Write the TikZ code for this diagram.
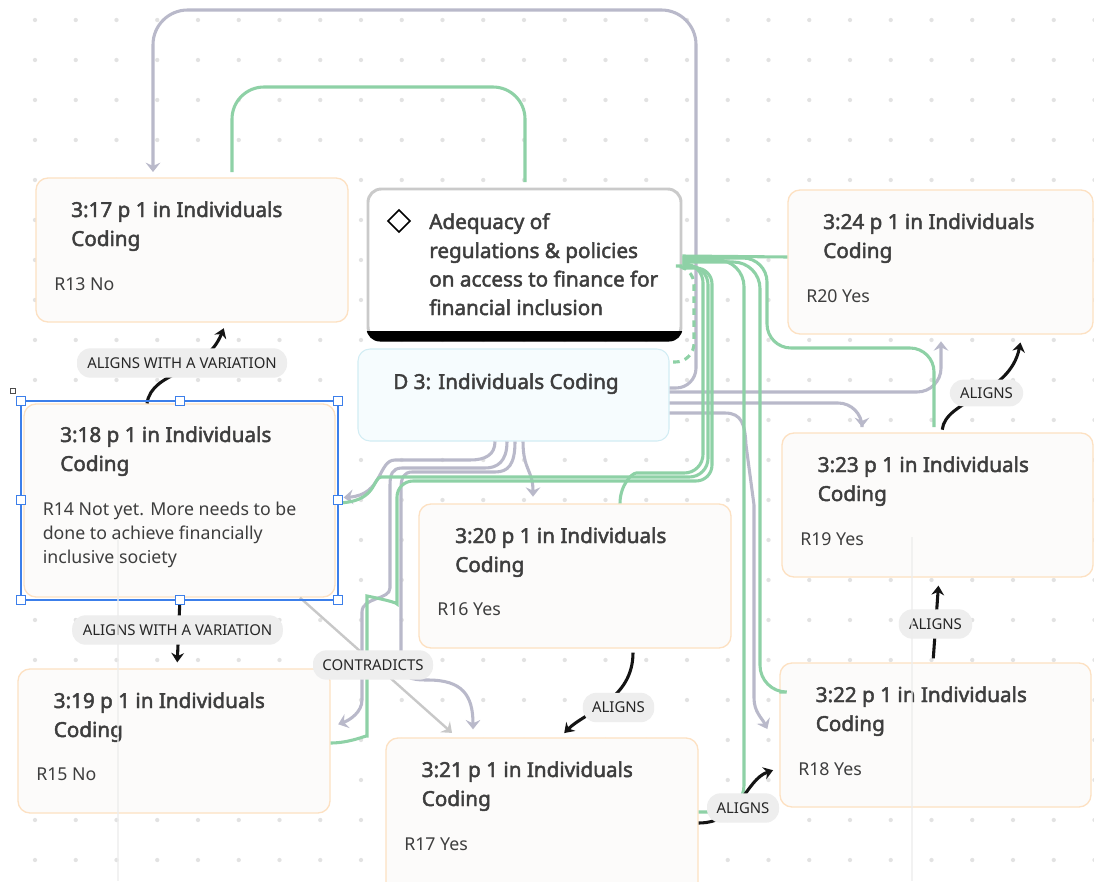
\documentclass[tikz,border=0pt]{standalone}
\usepackage{fontspec}
\setmainfont{Noto Sans}
\newfontfamily\headfont{Noto Sans}[FakeBold=2.2]
\usetikzlibrary{arrows.meta,fit,calc}

\definecolor{boxfill}{HTML}{FCFBFA}
\definecolor{boxline}{HTML}{FDE1C2}
\definecolor{txt}{HTML}{3E3E3E}
\definecolor{dfill}{HTML}{F6FCFE}
\definecolor{dline}{HTML}{D2EDF4}
\definecolor{grayc}{HTML}{B9B9CA}
\definecolor{greenc}{HTML}{8ED1A6}
\definecolor{pillc}{HTML}{EEEEEE}
\definecolor{conline}{HTML}{CACACA}
\definecolor{selc}{HTML}{3C7FEA}
\definecolor{dotc}{HTML}{E2E2E2}
\definecolor{contra}{HTML}{C8C8C8}
\definecolor{wm}{HTML}{EDEDED}

\begin{document}
\begin{tikzpicture}[x=0.75pt,y=-0.75pt,
  card/.style={draw=boxline, fill=boxfill, line width=1pt, rounded corners=9pt, inner sep=0pt},
  ttl/.style={anchor=base west, inner sep=0pt, text=txt, font=\fontsize{15.5}{18}\headfont},
  bdy/.style={anchor=base west, inner sep=0pt, text=txt, font=\fontsize{13.3}{16}\selectfont},
  pill/.style={fill=pillc, rounded corners=10pt, inner sep=0pt, minimum height=22pt, text=black!85, font=\fontsize{11.2}{13}\selectfont},
  gl/.style={draw=greenc, line width=2.3pt},
  garr/.style={draw=grayc, line width=2.3pt, -{Stealth[length=7pt,width=11pt,inset=2.5pt]}},
  blk/.style={draw=black!92, line width=2.3pt, -{Stealth[length=7pt,width=9.5pt]}},
  handle/.style={draw=selc, fill=white, line width=1pt, minimum size=7pt, inner sep=0pt},
]
\useasboundingbox (0,0) rectangle (1094,881);
\fill[white] (0,0) rectangle (1094,881);

% dot grid of the canvas
\foreach \i in {0,...,26}{\foreach \j in {0,...,21}{
  \fill[dotc] ({35+40.75*\i},{20+40*\j}) circle (1.6pt);}}

% quotation cards
\node[card, fit={(36,178) (348,322)}] (n17) {};
\node[card, fit={(24,404) (335,597)}] (n18) {};
\node[card, fit={(18,669) (330,813)}] (n19) {};
\node[card, fit={(419,504) (731,648)}] (n20) {};
\node[card, fit={(386,738) (698,900)}] (n21) {};
\node[card, fit={(780,663) (1091,807)}] (n22) {};
\node[card, fit={(782,433) (1093,577)}] (n23) {};
\node[card, fit={(788,190) (1093,334)}] (n24) {};

% code node and document node
\node[draw=conline, fill=white, line width=2.2pt, rounded corners=10pt, inner sep=0pt, fit={(368,189) (681,340)}] (con) {};
\begin{scope}
  \clip[rounded corners=10pt] (366.5,187.5) rectangle (682.5,341.5);
  \fill[black] (360,331) rectangle (690,345);
\end{scope}
\node[draw=dline, fill=dfill, line width=0.8pt, rounded corners=9pt, inner sep=0pt, fit={(358,349) (669,441)}] (d3) {};

% grey links
\draw[garr, shorten >=4pt] (d3.east |- 0,388) [rounded corners=15pt] -- (696,388) [rounded corners=26pt] -- (696,10) -- (153,10) -- (153,0 |- n17.north);
\draw[garr, rounded corners=18pt, shorten >=5pt] (d3.east |- 0,392) -- (941,392) -- (941,0 |- n24.south);
\draw[garr, rounded corners=18pt, shorten >=4pt] (d3.east |- 0,403) -- (862,403) -- (862,0 |- n23.north);
\draw[garr] (d3.east |- 0,413) -- (725,413) .. controls (742,413) and (745,425) .. (746,445) -- (754,505) -- (754,698) .. controls (754,712) and (762,718) .. ($(n22.west)+(-12,-6)$);
\draw[garr, shorten >=5pt] (523,0 |- d3.south) .. controls (523,470) and (533,470) .. (533,0 |- n20.north);
\draw[garr, shorten >=6pt] (495,0 |- d3.south) .. controls (495,455) and (485,460) .. (470,460) -- (395,460) .. controls (378,460) and (383,495) .. (n18.east |- 0,498);
\draw[garr, shorten >=6pt] (507,0 |- d3.south) .. controls (507,462) and (497,468) .. (485,468) -- (402,468) .. controls (392,468) and (390,475) .. (390,485) -- (390,588) .. controls (390,600) and (362,597) .. (362,612) -- (362,700) .. controls (362,712) and (350,720) .. (n19.east |- 0,727);
\draw[garr, shorten >=6pt] (515,0 |- d3.south) .. controls (515,465) and (508,472) .. (495,472) -- (412,472) .. controls (404,472) and (401,478) .. (401,488) -- (401,660) .. controls (401,678) and (410,680) .. (428,680) .. controls (462,680) and (473,695) .. (473,0 |- n21.north);
\draw[draw=contra, line width=1.8pt, -{Stealth[length=7pt,width=11pt,inset=2.5pt]}, shorten >=5pt] (300,0 |- n18.south) -- (457,0 |- n21.north);

% green links
\draw[gl, rounded corners=24pt, shorten <=4pt, shorten >=4pt] (232,0 |- n17.north) -- (232,87) -- (525,87) -- (525,0 |- con.north);
\draw[gl] (con.east |- 0,256) -- (n24.west |- 0,257);
\draw[gl, rounded corners=18pt, shorten >=4pt] (con.east |- 0,258) -- (767,258) -- (767,348) -- (934,348) -- (934,0 |- n23.north);
\draw[gl, rounded corners=20pt] (con.east |- 0,260) -- (744,260) -- (744,812) -- (n21.east |- 0,812);
\draw[gl, rounded corners=20pt] (con.east |- 0,262) -- (760,262) -- (760,692) -- (n22.west |- 0,692);
\draw[gl, dash pattern=on 5pt off 4pt, rounded corners=14pt] (con.east |- 0,266) -- (694,266) -- (694,362) -- (d3.east |- 0,362);
\draw[gl, rounded corners=14pt] (con.east |- 0,264) -- (703,264) -- (703,473) -- (655,473) .. controls (632,473) and (620,485) .. (620,0 |- n20.north);
\draw[gl, rounded corners=14pt] (con.east |- 0,266) -- (708,266) -- (708,477) -- (400,477) .. controls (372,477) and (378,503) .. (n18.east |- 0,503);
\draw[gl, rounded corners=12pt] (con.east |- 0,268) -- (712,268) -- (712,481) -- (397,481) -- (397,588) .. controls (397,602) and (367,596) .. (367,612) -- (367,720) .. controls (367,735) and (350,743) .. (n19.east |- 0,743);

% black labelled links
\draw[blk, shorten >=4.5pt] (147,0 |- n18.north) .. controls (152,370) and (205,375) .. (226,0 |- n17.south);
\draw[blk, shorten >=4.5pt] (180,0 |- n18.south) -- (177,0 |- n19.north);
\draw[blk, shorten <=3pt, shorten >=4.5pt] (633,0 |- n20.south) .. controls (633,700) and (585,712) .. (560,0 |- n21.north);
\draw[blk, shorten >=5pt] (n21.east |- 0,823) .. controls (740,823) and (745,780) .. (n22.west |- 0,768);
\draw[blk, shorten <=3pt, shorten >=6pt] (933,0 |- n22.north) -- (939,0 |- n23.south);
\draw[blk, shorten <=2pt, shorten >=6pt] (942,0 |- n23.north) .. controls (945,400) and (1010,395) .. (1022,0 |- n24.south);

% link labels
\node[pill, minimum width=157.5pt] (p1) at (182,363) {ALIGNS WITH A VARIATION};
\node[pill, minimum width=158pt] (p2) at (177.5,630) {ALIGNS WITH A VARIATION};
\node[pill, minimum width=90pt] (p3) at (373,665) {CONTRADICTS};
\node[pill, minimum width=53.5pt] (p4) at (618.5,707.5) {ALIGNS};
\node[pill, minimum width=54pt] (p5) at (743,808) {ALIGNS};
\node[pill, minimum width=55pt] (p6) at (935.5,624) {ALIGNS};
\node[pill, minimum width=55pt, minimum height=20pt] (p7) at (986.5,393) {ALIGNS};

% card texts
\node[ttl] (t17a) at (71,217) {3:17 p 1 in Individuals};
\node[ttl] (t17b) at (71,246) {Coding};
\node[bdy] (b17) at (54,290) {R13 No};
\node[ttl] (t18a) at (60,442) {3:18 p 1 in Individuals};
\node[ttl] (t18b) at (60,471) {Coding};
\node[bdy] (b18a) at (42.5,515) {R14 Not yet. More needs to be};
\node[bdy] (b18b) at (42.5,539) {done to achieve financially};
\node[bdy] (b18c) at (42.5,563) {inclusive society};
\node[ttl] (t19a) at (53.5,708) {3:19 p 1 in Individuals};
\node[ttl] (t19b) at (53.5,737) {Coding};
\node[bdy] (b19) at (36,780) {R15 No};
\node[ttl] (t20a) at (455,543) {3:20 p 1 in Individuals};
\node[ttl] (t20b) at (455,572) {Coding};
\node[bdy] (b20) at (437,615) {R16 Yes};
\node[ttl] (t21a) at (421.5,777) {3:21 p 1 in Individuals};
\node[ttl] (t21b) at (421.5,806) {Coding};
\node[bdy] (b21) at (404,850) {R17 Yes};
\node[ttl] (t22a) at (815.5,702) {3:22 p 1 in Individuals};
\node[ttl] (t22b) at (815.5,731) {Coding};
\node[bdy] (b22) at (798,775) {R18 Yes};
\node[ttl] (t23a) at (817.5,472) {3:23 p 1 in Individuals};
\node[ttl] (t23b) at (817.5,501) {Coding};
\node[bdy] (b23) at (800,545) {R19 Yes};
\node[ttl] (t24a) at (823,229) {3:24 p 1 in Individuals};
\node[ttl] (t24b) at (823,258) {Coding};
\node[bdy] (b24) at (806,302) {R20 Yes};

% code node text with its diamond mark
\draw[black, line width=1.3pt] (399,210) -- (410,221) -- (399,232) -- (388,221) -- cycle;
\node[ttl] (c1) at (429,229) {Adequacy of};
\node[ttl] (c2) at (429,258) {regulations \& policies};
\node[ttl] (c3) at (429,286.5) {on access to finance for};
\node[ttl] (c4) at (429,315) {financial inclusion};
\node[ttl] (dt) at (393,389) {D 3: Individuals Coding};

% selection frame round the 3:18 card
\draw[selc, line width=1pt] (21,401) rectangle (338,600);
\foreach \k/\p in {1/{(21,401)},2/{(180,401)},3/{(338,401)},4/{(21,500)},5/{(338,500)},6/{(21,600)},7/{(180,600)},8/{(338,600)}}
  \node[handle] (h\k) at \p {};
\node[draw=black!70, fill=white, line width=0.6pt, minimum size=4pt, inner sep=0pt] (h0) at (13,391) {};

% faint guides
\draw[wm, line width=0.8pt, opacity=0.7] (118,540) -- (118,881);
\draw[wm, line width=0.8pt, opacity=0.7] (912,537) -- (912,881);
\end{tikzpicture}
\end{document}
